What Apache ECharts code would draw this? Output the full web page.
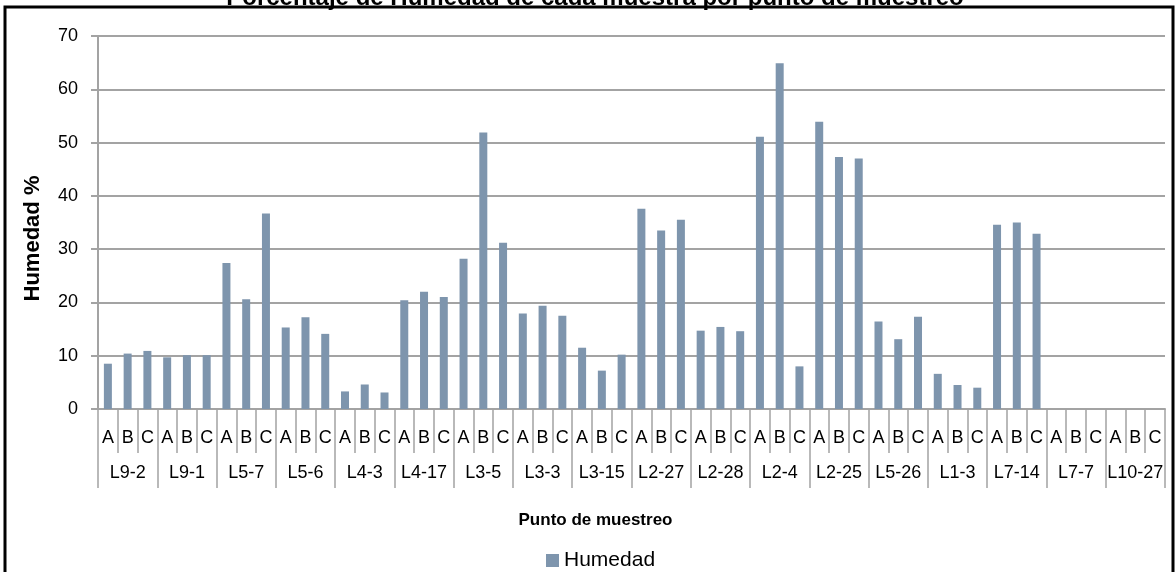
<!DOCTYPE html>
<html>
<head>
<meta charset="utf-8">
<script src="https://cdn.jsdelivr.net/npm/echarts@6/dist/echarts.min.js"></script>
<style>
  html, body { margin: 0; padding: 0; background: #fff; }
  #chart { width: 1176px; height: 572px; }
</style>
</head>
<body>
<div id="chart"></div>
<script>
// Sampling points, each with three sub-samples A, B and C
const groups = ['L9-2', 'L9-1', 'L5-7', 'L5-6', 'L4-3', 'L4-17', 'L3-5', 'L3-3', 'L3-15',
                'L2-27', 'L2-28', 'L2-4', 'L2-25', 'L5-26', 'L1-3', 'L7-14', 'L7-7', 'L10-27'];
const subSamples = ['A', 'B', 'C'];

// Moisture (%) per sub-sample, in group order (A, B, C); null = no measurement
const humedad = [
  8.5, 10.4, 10.9,
  9.7, 10.1, 10.1,
  27.4, 20.6, 36.7,
  15.3, 17.2, 14.1,
  3.3, 4.6, 3.1,
  20.4, 22.0, 21.0,
  28.2, 51.9, 31.2,
  17.9, 19.4, 17.5,
  11.5, 7.2, 10.2,
  37.6, 33.5, 35.5,
  14.7, 15.4, 14.6,
  51.1, 64.9, 8.0,
  53.9, 47.3, 47.0,
  16.4, 13.1, 17.3,
  6.6, 4.5, 4.0,
  34.6, 35.0, 32.9,
  null, null, null,
  null, null, null
];

const yTicks = { min: 0, max: 70, interval: 10 };

// One A/B/C label per bar
const subLabels = [];
groups.forEach(() => subSamples.forEach(s => subLabels.push(s)));

const SANS = '"Liberation Sans", Arial, sans-serif';
const GRID_GRAY = '#a3a3a3';
const BAR_COLOR = '#7e95ad';

const chart = echarts.init(document.getElementById('chart'), null, { renderer: 'canvas' });

chart.setOption({
  animation: false,
  backgroundColor: '#ffffff',
  grid: { left: 98, right: 11, top: 36, bottom: 163, containLabel: false },
  legend: {
    data: ['Humedad'],
    left: 541,
    top: 545,
    icon: 'rect',
    itemWidth: 13,
    itemHeight: 13,
    itemGap: 6,
    textStyle: { fontFamily: SANS, fontSize: 21, color: '#000' }
  },
  xAxis: [
    {
      type: 'category',
      data: subLabels,
      position: 'bottom',
      axisLine: { show: true, lineStyle: { color: GRID_GRAY, width: 2 } },
      axisTick: { show: true, interval: 0, length: 44, lineStyle: { color: GRID_GRAY, width: 1.5 } },
      axisLabel: { interval: 0, margin: 20, fontFamily: SANS, fontSize: 18, color: '#000' },
      splitLine: { show: false }
    },
    {
      type: 'category',
      data: groups,
      position: 'bottom',
      name: 'Punto de muestreo',
      nameLocation: 'middle',
      nameGap: 103,
      nameTextStyle: { fontFamily: SANS, fontSize: 17, fontWeight: 'bold', color: '#000', padding: [0, 72, 0, 0] },
      axisLine: { show: false },
      axisTick: { show: true, interval: 0, length: 79, lineStyle: { color: GRID_GRAY, width: 1.5 } },
      axisLabel: { interval: 0, margin: 55, fontFamily: SANS, fontSize: 18, color: '#000' },
      splitLine: { show: false }
    }
  ],
  yAxis: {
    type: 'value',
    min: yTicks.min,
    max: yTicks.max,
    interval: yTicks.interval,
    name: 'Humedad %',
    nameLocation: 'middle',
    nameGap: 54,
    nameRotate: 90,
    nameTextStyle: { fontFamily: SANS, fontSize: 22, fontWeight: 'bold', color: '#000', padding: [0, 0, 0, -32] },
    axisLine: { show: true, lineStyle: { color: GRID_GRAY, width: 2 } },
    axisTick: { show: true, length: 7, lineStyle: { color: GRID_GRAY, width: 2 } },
    axisLabel: { margin: 20, fontFamily: SANS, fontSize: 18, color: '#000' },
    splitLine: { show: true, lineStyle: { color: GRID_GRAY, width: 2 } }
  },
  series: [
    {
      name: 'Humedad',
      type: 'bar',
      xAxisIndex: 0,
      data: humedad,
      barWidth: 8,
      itemStyle: { color: BAR_COLOR }
    }
  ],
  graphic: [
    {
      type: 'rect',
      silent: true,
      shape: { x: 5, y: 7, width: 1168, height: 600 },
      style: { fill: null, stroke: '#000', lineWidth: 3 },
      z: 100
    },
    {
      type: 'text',
      silent: true,
      x: 595,
      y: 10,
      style: {
        text: 'Porcentaje de Humedad de cada muestra por punto de muestreo',
        font: 'bold 24px ' + SANS,
        fill: '#000',
        align: 'center',
        verticalAlign: 'bottom'
      },
      z: 99
    }
  ]
});
</script>
</body>
</html>
